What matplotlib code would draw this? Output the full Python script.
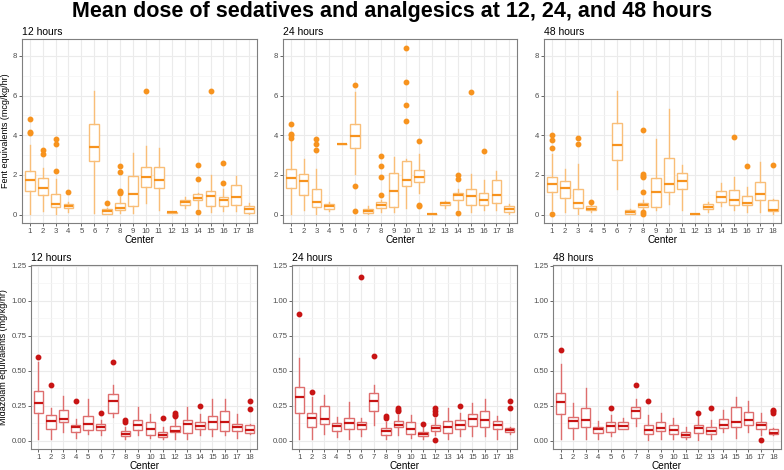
import numpy as np
import matplotlib.pyplot as plt
from matplotlib.ticker import MultipleLocator

plt.rcParams['font.family'] = ['Liberation Sans', 'DejaVu Sans']

centers = list(range(1, 19))

# fentanyl equivalents (mcg/kg/hr): q1, median, q3, whisker low, whisker high, outliers
# None = no data for that center
fent_12_q1 = [1.20, 1.00, 0.40, 0.32, None, 2.70, 0.05, 0.25, 0.42, 1.40, 1.33, 0.10, 0.48, 0.72, 0.45, 0.45, 0.47, 0.08]
fent_12_med = [1.73, 1.36, 0.54, 0.43, None, 3.42, 0.18, 0.34, 1.05, 1.88, 1.77, 0.12, 0.62, 0.82, 0.95, 0.75, 0.90, 0.28]
fent_12_q3 = [2.20, 1.86, 1.05, 0.52, None, 4.55, 0.27, 0.58, 1.97, 2.38, 2.42, 0.14, 0.75, 1.03, 1.20, 0.90, 1.48, 0.42]
fent_12_lo = [0.05, 0.17, 0.05, 0.12, None, 0.08, 0.02, 0.10, 0.10, 0.58, 0.22, 0.10, 0.32, 0.35, 0.15, 0.20, 0.20, 0.02]
fent_12_hi = [3.50, 2.35, 1.80, 0.62, None, 6.23, 0.35, 0.90, 3.10, 3.45, 3.35, 0.14, 0.88, 1.10, 2.00, 1.30, 1.93, 0.58]
fent_12_out = [[4.83, 4.16, 4.10], [3.25, 3.08], [3.82, 3.57, 2.22], [1.12], [], [], [0.57],
               [2.44, 2.13, 1.20, 1.13, 1.08], [], [6.22], [], [], [], [2.52, 1.80, 0.15], [6.22],
               [2.58, 1.62], [], []]

fent_24_q1 = [1.32, 0.97, 0.40, 0.30, 3.58, 3.37, 0.07, 0.35, 0.40, 1.45, 1.67, 0.05, 0.47, 0.75, 0.48, 0.50, 0.60, 0.15]
fent_24_med = [1.83, 1.70, 0.62, 0.43, 3.58, 3.97, 0.17, 0.47, 1.18, 1.77, 1.88, 0.05, 0.60, 1.00, 0.92, 0.72, 0.98, 0.30]
fent_24_q3 = [2.28, 2.05, 1.28, 0.55, 3.58, 4.55, 0.30, 0.62, 2.10, 2.68, 2.25, 0.05, 0.65, 1.08, 1.30, 1.08, 1.77, 0.42]
fent_24_lo = [0.05, 0.22, 0.05, 0.20, 3.58, 2.05, 0.02, 0.12, 0.15, 0.35, 1.10, 0.05, 0.35, 0.30, 0.15, 0.25, 0.25, 0.05]
fent_24_hi = [3.70, 2.80, 2.30, 0.65, 3.58, 6.20, 0.42, 0.75, 2.93, 2.80, 3.05, 0.05, 0.68, 1.30, 2.05, 1.75, 2.20, 0.55]
fent_24_out = [[4.55, 4.05, 4.00, 3.85], [], [3.83, 3.58, 3.25], [], [], [6.53, 1.43, 0.18], [],
               [2.95, 2.47, 1.90, 0.97], [], [8.40, 6.67, 5.55, 4.73], [3.70, 0.50, 0.42], [], [],
               [2.00, 1.78, 0.10], [6.18], [3.20], [], []]

fent_48_q1 = [1.15, 0.85, 0.35, 0.22, None, 2.75, 0.05, 0.40, 0.40, 1.15, 1.28, 0.03, 0.28, 0.63, 0.50, 0.50, 0.75, 0.17]
fent_48_med = [1.52, 1.32, 0.57, 0.30, None, 3.52, 0.12, 0.48, 1.15, 1.52, 1.72, 0.03, 0.40, 0.88, 0.73, 0.60, 1.05, 0.25]
fent_48_q3 = [1.92, 1.72, 1.30, 0.42, None, 4.62, 0.22, 0.58, 1.87, 2.87, 2.12, 0.03, 0.53, 1.20, 1.25, 0.92, 1.67, 0.73]
fent_48_lo = [0.25, 0.15, 0.03, 0.12, None, 1.30, 0.02, 0.20, 0.22, 0.52, 0.25, 0.03, 0.15, 0.45, 0.22, 0.12, 0.12, 0.05]
fent_48_hi = [3.05, 2.32, 2.55, 0.50, None, 6.25, 0.30, 0.72, 3.82, 5.30, 2.52, 0.03, 0.62, 1.62, 1.92, 1.38, 2.65, 0.80]
fent_48_out = [[4.03, 3.78, 3.38, 0.02], [], [3.85, 3.58], [0.63], [], [], [],
               [4.27, 2.05, 1.95, 1.88, 1.13, 0.15, 0.05], [], [], [], [], [], [], [3.90], [2.45], [], [2.52]]

# midazolam equivalents (mg/kg/hr)
mid_12_q1 = [0.195, 0.085, 0.135, 0.065, 0.075, 0.075, 0.200, 0.030, 0.075, 0.040, 0.025, 0.060, 0.055, 0.080, 0.085, 0.070, 0.070, 0.055]
mid_12_med = [0.270, 0.140, 0.155, 0.095, 0.120, 0.100, 0.280, 0.045, 0.110, 0.080, 0.040, 0.070, 0.120, 0.105, 0.135, 0.130, 0.095, 0.075]
mid_12_q3 = [0.355, 0.180, 0.220, 0.110, 0.175, 0.120, 0.335, 0.070, 0.145, 0.130, 0.065, 0.105, 0.145, 0.135, 0.175, 0.210, 0.120, 0.110]
mid_12_lo = [0.010, 0.010, 0.060, 0.020, 0.045, 0.040, 0.170, 0.010, 0.040, 0.020, 0.010, 0.010, 0.015, 0.040, 0.030, 0.040, 0.020, 0.045]
mid_12_hi = [0.560, 0.230, 0.320, 0.155, 0.295, 0.150, 0.400, 0.100, 0.240, 0.190, 0.100, 0.160, 0.240, 0.190, 0.300, 0.300, 0.190, 0.120]
mid_12_out = [[0.600], [0.395], [], [0.280], [], [0.195], [0.565], [0.145, 0.135], [], [], [0.160],
              [0.200, 0.185, 0.175], [], [0.250], [], [], [], [0.285, 0.225]]

mid_24_q1 = [0.200, 0.100, 0.120, 0.070, 0.080, 0.085, 0.210, 0.040, 0.095, 0.045, 0.030, 0.070, 0.055, 0.085, 0.105, 0.100, 0.085, 0.060]
mid_24_med = [0.315, 0.165, 0.155, 0.105, 0.125, 0.115, 0.285, 0.070, 0.115, 0.085, 0.050, 0.090, 0.100, 0.115, 0.155, 0.150, 0.110, 0.075]
mid_24_q3 = [0.385, 0.200, 0.245, 0.125, 0.165, 0.135, 0.340, 0.090, 0.140, 0.130, 0.065, 0.110, 0.140, 0.145, 0.190, 0.215, 0.140, 0.090]
mid_24_lo = [0.010, 0.010, 0.050, 0.025, 0.015, 0.030, 0.110, 0.015, 0.040, 0.020, 0.010, 0.040, 0.010, 0.030, 0.030, 0.030, 0.010, 0.045]
mid_24_hi = [0.590, 0.315, 0.325, 0.170, 0.275, 0.165, 0.400, 0.135, 0.185, 0.180, 0.100, 0.160, 0.235, 0.200, 0.270, 0.300, 0.175, 0.100]
mid_24_out = [[0.905], [0.350], [], [], [], [1.170], [0.605], [0.175, 0.165], [0.230, 0.220, 0.210], [],
              [0.120], [0.235, 0.215, 0.190, 0.005], [], [0.250], [], [], [], [0.285, 0.235]]

mid_48_q1 = [0.190, 0.090, 0.100, 0.055, 0.065, 0.080, 0.165, 0.045, 0.070, 0.045, 0.025, 0.055, 0.045, 0.090, 0.100, 0.110, 0.080, 0.045]
mid_48_med = [0.275, 0.140, 0.145, 0.080, 0.105, 0.105, 0.215, 0.075, 0.090, 0.075, 0.040, 0.090, 0.070, 0.115, 0.130, 0.145, 0.115, 0.055]
mid_48_q3 = [0.340, 0.170, 0.235, 0.100, 0.130, 0.130, 0.240, 0.110, 0.130, 0.115, 0.060, 0.110, 0.100, 0.155, 0.240, 0.205, 0.130, 0.085]
mid_48_lo = [0.010, 0.010, 0.015, 0.010, 0.035, 0.080, 0.105, 0.005, 0.010, 0.015, 0.010, 0.005, 0.010, 0.065, 0.020, 0.060, 0.040, 0.040]
mid_48_hi = [0.550, 0.270, 0.375, 0.140, 0.180, 0.160, 0.300, 0.180, 0.200, 0.165, 0.100, 0.175, 0.150, 0.220, 0.310, 0.280, 0.200, 0.090]
mid_48_out = [[0.650], [], [], [], [0.230], [], [0.400], [0.285], [], [], [], [0.200], [0.235], [], [], [],
              [0.005], [0.220, 0.210, 0.200]]

panels = [
    ("12 hours", fent_12_q1, fent_12_med, fent_12_q3, fent_12_lo, fent_12_hi, fent_12_out),
    ("24 hours", fent_24_q1, fent_24_med, fent_24_q3, fent_24_lo, fent_24_hi, fent_24_out),
    ("48 hours", fent_48_q1, fent_48_med, fent_48_q3, fent_48_lo, fent_48_hi, fent_48_out),
    ("12 hours", mid_12_q1, mid_12_med, mid_12_q3, mid_12_lo, mid_12_hi, mid_12_out),
    ("24 hours", mid_24_q1, mid_24_med, mid_24_q3, mid_24_lo, mid_24_hi, mid_24_out),
    ("48 hours", mid_48_q1, mid_48_med, mid_48_q3, mid_48_lo, mid_48_hi, mid_48_out),
]

W, H = 784, 470
fig = plt.figure(figsize=(W / 100, H / 100), dpi=100)

# plot area boxes in pixels: left, right, top, bottom
boxes = [(22, 257, 39, 223), (283, 517, 39, 223), (544, 781, 39, 223),
         (31, 257, 265, 449), (292, 517, 265, 449), (553, 781, 265, 449)]

orange = '#F7931E'
orange_lt = '#F9BE78'
red = '#C81414'
red_lt = '#DE6E6E'

for i, (title, q1, med, q3, lo, hi, out) in enumerate(panels):
    l, r, t, b = boxes[i]
    ax = fig.add_axes([l / W, 1 - b / H, (r - l) / W, (b - t) / H])
    top = i < 3
    c, clt = (orange, orange_lt) if top else (red, red_lt)

    stats, pos = [], []
    for k in range(18):
        if med[k] is None:
            continue
        stats.append(dict(q1=q1[k], med=med[k], q3=q3[k], whislo=lo[k], whishi=hi[k], fliers=out[k]))
        pos.append(centers[k])

    ax.bxp(stats, positions=pos, widths=0.75, showcaps=False, patch_artist=True,
           boxprops=dict(facecolor='white', edgecolor=clt, linewidth=1.0),
           whiskerprops=dict(color=clt, linewidth=1.0),
           medianprops=dict(color=c, linewidth=1.6),
           flierprops=dict(marker='o', markerfacecolor=c, markeredgecolor=c, markersize=3.2),
           zorder=3)

    ax.set_xlim(0.4, 18.6)
    ax.set_xticks(centers)
    ax.set_xticklabels([str(x) for x in centers])
    if top:
        ax.set_ylim(-0.42, 8.85)
        ax.yaxis.set_major_locator(MultipleLocator(2))
        ax.yaxis.set_minor_locator(MultipleLocator(1))
    else:
        ax.set_ylim(-0.06, 1.255)
        ax.set_yticks([0, 0.25, 0.5, 0.75, 1.0, 1.25])
        ax.set_yticklabels(['0.00', '0.25', '0.50', '0.75', '1.00', '1.25'])
        ax.yaxis.set_minor_locator(MultipleLocator(0.125))

    ax.grid(True, which='major', color='#EBEBEB', linewidth=0.8, zorder=0)
    ax.grid(True, which='minor', axis='y', color='#F4F4F4', linewidth=0.5, zorder=0)
    ax.set_axisbelow(True)
    for s in ax.spines.values():
        s.set_color('#7F7F7F')
        s.set_linewidth(0.8)
    ax.tick_params(which='major', labelsize=5.6, colors='#4D4D4D', length=2.2, width=0.6, pad=1.2)
    ax.tick_params(which='minor', length=0)
    ax.set_xlabel('Center', fontsize=7.2, labelpad=0.5)
    ax.set_title(title, loc='left', fontsize=7.5, pad=3)

    if i == 0:
        ax.set_ylabel('Fent equivalents (mcg/kg/hr)', fontsize=6.5, labelpad=2)
    if i == 3:
        ax.set_ylabel('Midazolam equivalents (mg/kg/hr)', fontsize=6.5, labelpad=2)

fig.suptitle('Mean dose of sedatives and analgesics at 12, 24, and 48 hours',
             fontsize=15.5, fontweight='bold', y=0.997)

fig.savefig('out.png', dpi=100)
